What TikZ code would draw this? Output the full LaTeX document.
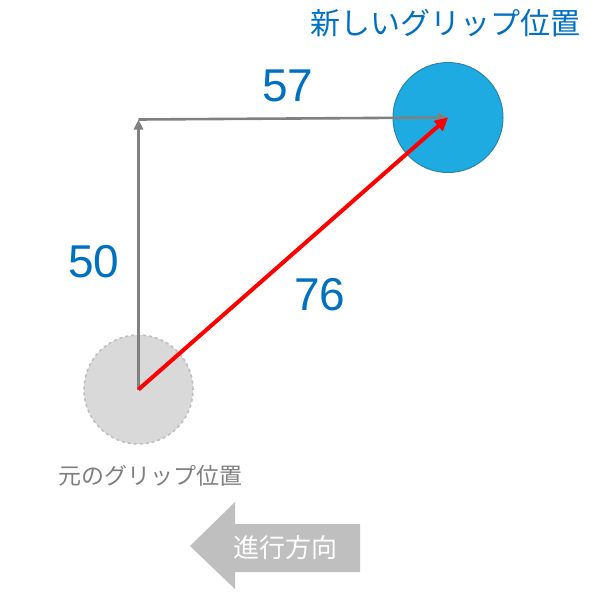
\documentclass[tikz,border=0pt]{standalone}
\usepackage{fontspec}
\setmainfont{Liberation Sans}
\newfontfamily\jp{Noto Sans CJK JP}
\usetikzlibrary{arrows.meta}
\definecolor{gripblue}{HTML}{1DABE2}
\definecolor{gripedge}{HTML}{2E84A8}
\definecolor{labelblue}{HTML}{0070C0}
\definecolor{oldfill}{HTML}{D9D9D9}
\definecolor{oldedge}{HTML}{BFBFBF}
\definecolor{linegray}{HTML}{808080}
\definecolor{dirgray}{HTML}{BFBFBF}

\begin{document}
\begin{tikzpicture}[x=1pt,y=-1pt,>={Triangle[length=10pt,width=9pt]},
                    semithick]
\tikzset{grip/.style={circle,inner sep=0pt,minimum size=109pt}}
\tikzset{dist/.style={text=labelblue,font=\fontsize{46}{46}\selectfont}}
\tikzset{guide/.style={->,draw=linegray,line width=2.6pt}}
  \useasboundingbox (0,0) rectangle (600,600);

\node [grip,fill=oldfill,draw=oldedge,dashed,line width=1.6pt] (old) at (138.5,389.5) {};
\node [grip,minimum size=110pt,fill=gripblue,draw=gripedge,line width=1pt] (new) at (448,117.5) {};
\coordinate (corner) at (138.5,119.5);

\node [dist] (dy) at (94,262) {50};
\node [dist] (dx) at (288,86) {57};
\node [dist] (dd) at (320,295) {76};

\node [text=labelblue,font=\jp\fontsize{30}{30}\selectfont] (newlabel) at (445,23) {新しいグリップ位置};
\node [text=linegray,font=\jp\fontsize{23}{23}\selectfont] (oldlabel) at (150,476) {元のグリップ位置};

\draw [guide] (old.center) -- (corner);
\draw [guide] (corner) -- (new.center);
\draw [->,red,line width=4pt,>={Triangle[length=13pt,width=13pt]}] (old.center) -- (new.center);

% direction of travel
\fill [dirgray] (190,546) -- (235,502) -- (235,524) -- (360,524)
      -- (360,572) -- (235,572) -- (235,589) -- cycle;
\node [text=white,font=\jp\fontsize{26}{26}\selectfont] (dir) at (285,548) {進行方向};

\end{tikzpicture}
\end{document}
